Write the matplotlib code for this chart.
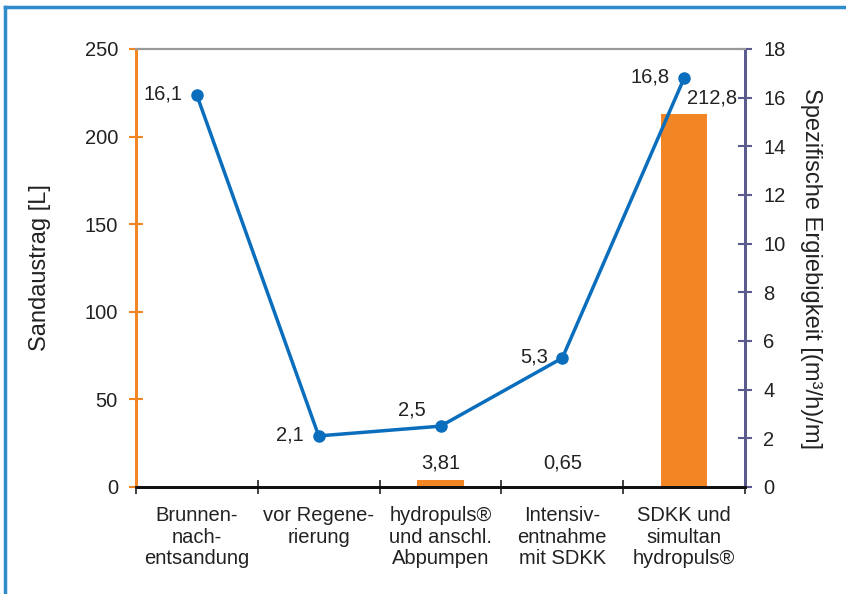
import numpy as np
import matplotlib.pyplot as plt
from matplotlib.lines import Line2D

plt.rcParams['font.family'] = ['Liberation Sans', 'DejaVu Sans']

categories = ["Brunnen-\nnach-\nentsandung", "vor Regene-\nrierung",
              "hydropuls®\nund anschl.\nAbpumpen", "Intensiv-\nentnahme\nmit SDKK",
              "SDKK und\nsimultan\nhydropuls®"]
sand = [0, 0, 3.81, 0.65, 212.8]          # Sandaustrag [L]
sand_labels = ["", "", "3,81", "0,65", "212,8"]
ergiebigkeit = [16.1, 2.1, 2.5, 5.3, 16.8]  # (m3/h)/m
erg_labels = ["16,1", "2,1", "2,5", "5,3", "16,8"]

orange = "#F28524"
blue = "#0A6EBD"
purple = "#5B5A8E"
txt = '#222222'
fs = 14.5

fig = plt.figure(figsize=(8.46, 5.94), dpi=100)
ax = fig.add_axes([136/846, 1-487/594, (745-136)/846, (487-49)/594])
ax2 = ax.twinx()

x = np.arange(len(categories))
ax.bar(x, sand, width=0.38, color=orange, zorder=2)
for xi, v, lab in zip(x, sand, sand_labels):
    if lab and v < 100:
        ax.text(xi, 13.5, lab, ha='center', va='center', fontsize=fs, color=txt)
ax.text(x[4] + 0.02, 222, sand_labels[4], ha='left', va='center', fontsize=fs, color=txt)

ax2.plot(x, ergiebigkeit, color=blue, lw=2.5, marker='o', ms=8, zorder=3)
for xi, v, lab in zip(x, ergiebigkeit, erg_labels):
    dy = 0.65 if lab == "2,5" else 0.05
    ax2.text(xi - 0.12, v + dy, lab, ha='right', va='center', fontsize=fs, color=txt)

ax.set_xlim(-0.5, 4.5)
ax.set_ylim(0, 250)
ax2.set_ylim(0, 18)
ax.set_yticks(np.arange(0, 251, 50))
ax2.set_yticks(np.arange(0, 19, 2))

# category separators on the x axis
ax.set_xticks(np.arange(-0.5, 5, 1))
ax.set_xticklabels([])
ax.set_xticks(x, minor=True)
ax.set_xticklabels(categories, minor=True, fontsize=fs, color=txt, linespacing=1.15)
ax.tick_params(axis='x', which='minor', length=0, pad=14)
ax.tick_params(axis='x', which='major', direction='inout', length=10, width=1.2, color='#222222')

ax.tick_params(axis='y', direction='inout', length=10, width=1.5, color=orange,
               labelsize=fs, labelcolor=txt, pad=8)
ax2.tick_params(axis='y', direction='inout', length=10, width=1.5, color=purple,
                labelsize=fs, labelcolor=txt, pad=8)

for a in (ax, ax2):
    a.spines['left'].set_color(orange)
    a.spines['left'].set_linewidth(2)
    a.spines['right'].set_color(purple)
    a.spines['right'].set_linewidth(2)
    a.spines['top'].set_color('#999999')
    a.spines['top'].set_linewidth(1.5)
    a.spines['bottom'].set_color('#111111')
    a.spines['bottom'].set_linewidth(2)

ax.set_ylabel("Sandaustrag [L]", fontsize=17, color=txt, labelpad=24)
ax2.set_ylabel("Spezifische Ergiebigkeit [(m³/h)/m]", fontsize=17, color=txt,
               rotation=270, labelpad=26)

# outer frame
fig.add_artist(Line2D([5/846, 5/846], [0, 1-7/594], color='#2E8BCC', lw=2.5))
fig.add_artist(Line2D([5/846, 1], [1-7/594, 1-7/594], color='#2E8BCC', lw=2.5))

fig.savefig("out.png", dpi=100)
